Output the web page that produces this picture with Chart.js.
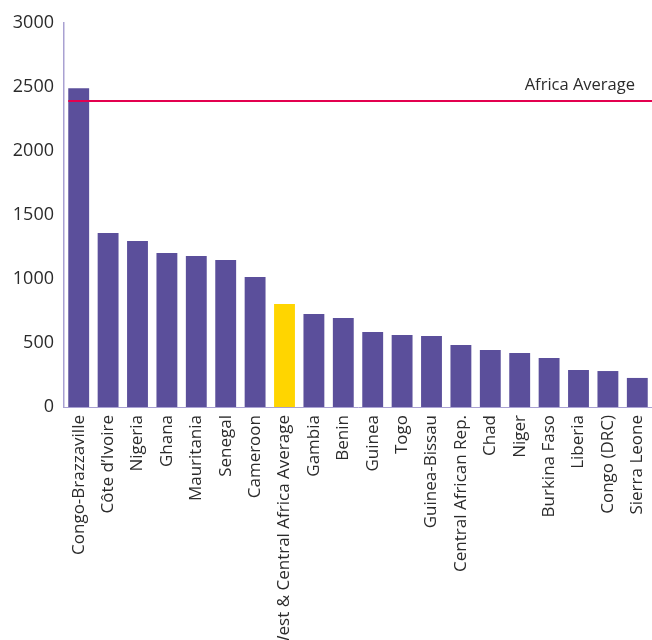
<!DOCTYPE html>
<html>
<head>
<meta charset="utf-8">
<script src="https://cdn.jsdelivr.net/npm/chart.js@4"></script>
<style>
  html, body { margin: 0; padding: 0; background: #ffffff; }
  #wrap { width: 652px; height: 640px; position: relative; }
</style>
</head>
<body>
<div id="wrap"><canvas id="chart" width="652" height="640"></canvas></div>
<script>
// Countries, sorted by value (descending)
const countries = [
  "Congo-Brazzaville", "Côte d\u2019Ivoire", "Nigeria", "Ghana", "Mauritania",
  "Senegal", "Cameroon", "West & Central Africa Average", "Gambia", "Benin",
  "Guinea", "Togo", "Guinea-Bissau", "Central African Rep.", "Chad",
  "Niger", "Burkina Faso", "Liberia", "Congo (DRC)", "Sierra Leone"
];
const values = [
  2490, 1360, 1297, 1203, 1180,
  1148, 1016, 805, 727, 695,
  586, 563, 555, 484, 445,
  422, 383, 289, 281, 227
];
const regionalAverageLabel = "West & Central Africa Average";
const africaAverage = 2390;
const africaAverageLabel = "Africa Average";
const yTicks = [0, 500, 1000, 1500, 2000, 2500, 3000];

const PURPLE = "#5b4f9b";
const YELLOW = "#ffd500";
const AXIS = "#a9a1d2";
const TEXT = "#2b2b2b";
const RED = "#e3004f";

const barColors = countries.map(c => c === regionalAverageLabel ? YELLOW : PURPLE);

// Horizontal reference line for the continental average
const averageLine = {
  id: "averageLine",
  afterDatasetsDraw(chart) {
    const { ctx, scales: { y } } = chart;
    const py = y.getPixelForValue(africaAverage);
    const first = chart.getDatasetMeta(0).data[0];
    const x0 = first.x - first.width / 2;
    ctx.save();
    ctx.strokeStyle = RED;
    ctx.lineWidth = 2;
    ctx.beginPath();
    ctx.moveTo(x0, py);
    ctx.lineTo(chart.width, py);
    ctx.stroke();
    ctx.fillStyle = TEXT;
    ctx.font = "16.5px 'Open Sans', sans-serif";
    ctx.textAlign = "right";
    ctx.textBaseline = "bottom";
    ctx.fillText(africaAverageLabel, 635, py - 8);
    ctx.restore();
  }
};

new Chart(document.getElementById("chart"), {
  type: "bar",
  data: {
    labels: countries,
    datasets: [{
      data: values,
      backgroundColor: barColors,
      borderWidth: 0,
      barPercentage: 0.71,
      categoryPercentage: 1.0
    }]
  },
  options: {
    responsive: false,
    animation: false,
    layout: { padding: { top: 23, right: 0, left: 0, bottom: 0 } },
    plugins: { legend: { display: false }, tooltip: { enabled: false } },
    scales: {
      x: {
        offset: true,
        grid: { display: false, drawTicks: false },
        border: { display: true, color: AXIS, width: 1 },
        ticks: {
          color: TEXT,
          font: { family: "'Open Sans', sans-serif", size: 17 },
          minRotation: 90,
          maxRotation: 90,
          autoSkip: false,
          padding: 8
        },
        afterFit(scale) {
          scale.height = 233;
          scale.paddingLeft = 0;
          scale.paddingRight = 0;
        }
      },
      y: {
        min: 0,
        max: 3000,
        afterBuildTicks(scale) { scale.ticks = yTicks.map(v => ({ value: v })); },
        grid: { display: false, drawTicks: false },
        border: { display: true, color: AXIS, width: 1.5 },
        ticks: {
          color: TEXT,
          font: { family: "'Open Sans', sans-serif", size: 18 },
          padding: 10,
          callback: v => String(v)
        },
        afterFit(scale) { scale.width = 64; }
      }
    }
  },
  plugins: [averageLine]
});
</script>
</body>
</html>
